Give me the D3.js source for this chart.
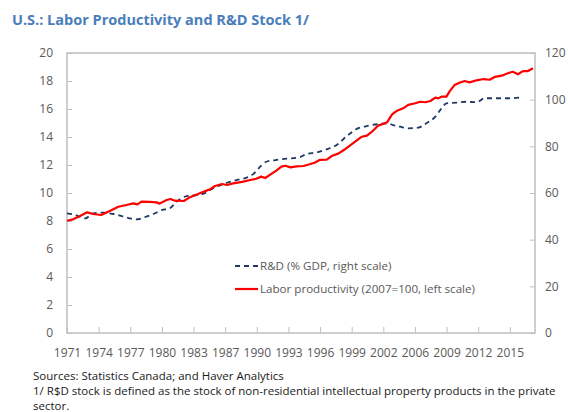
<!DOCTYPE html>
<html lang="en">
<head>
  <meta charset="UTF-8" />
  <title>U.S.: Labor Productivity and R&amp;D Stock</title>
  <script src="https://d3js.org/d3.v7.min.js"></script>
  <style>
    body { margin: 0; background: #fff; }
    svg text { font-family: "Open Sans", "Noto Sans", sans-serif; }
  </style>
</head>
<body>
  <div id="chart"></div>

  <script>
    // Labor productivity (2007=100, left scale)
    const prodYears = [1971.0, 1971.6, 1972.3, 1973.0, 1973.6, 1974.4, 1975.3, 1976.1, 1976.9, 1977.6,
      1978.0, 1978.4, 1979.2, 1979.9, 1980.2, 1980.9, 1981.3, 1981.7, 1982.6, 1983.2,
      1983.9, 1984.5, 1985.2, 1985.7, 1986.4, 1986.9, 1987.5, 1988.4, 1989.2, 1989.8,
      1990.3, 1990.7, 1991.3, 1991.8, 1992.3, 1992.7, 1993.2, 1993.8, 1994.5, 1995.1,
      1995.6, 1996.1, 1996.8, 1997.3, 1998.0, 1998.5, 1999.1, 1999.6, 2000.3, 2000.8,
      2001.3, 2001.9, 2002.4, 2002.8, 2003.3, 2003.8, 2004.4, 2004.9, 2005.6, 2006.1,
      2006.6, 2007.1, 2007.6, 2007.9, 2008.2, 2008.7, 2009.0, 2009.5, 2010.0, 2010.5,
      2011.0, 2011.7, 2012.4, 2013.0, 2013.5, 2014.2, 2014.8, 2015.3, 2015.8, 2016.3,
      2016.8, 2017.3];
    const prodValues = [8.02, 8.12, 8.36, 8.62, 8.50, 8.43, 8.74, 9.02, 9.14, 9.26,
      9.19, 9.38, 9.36, 9.33, 9.24, 9.50, 9.57, 9.45, 9.43, 9.69,
      9.90, 10.07, 10.26, 10.50, 10.64, 10.57, 10.69, 10.79, 10.93, 11.02,
      11.17, 11.07, 11.36, 11.60, 11.88, 11.95, 11.83, 11.90, 11.93, 12.05,
      12.16, 12.36, 12.38, 12.64, 12.83, 13.07, 13.38, 13.65, 14.02, 14.10,
      14.38, 14.81, 14.93, 15.05, 15.62, 15.88, 16.05, 16.29, 16.41, 16.52,
      16.48, 16.57, 16.81, 16.76, 16.88, 16.88, 17.24, 17.71, 17.88, 18.00,
      17.90, 18.05, 18.14, 18.09, 18.29, 18.38, 18.55, 18.66, 18.48, 18.71,
      18.71, 18.91];

    // R&D (% GDP, right scale)
    const rdYears = [1971.0, 1971.8, 1972.8, 1973.6, 1974.6, 1975.6, 1976.6, 1977.4, 1977.9, 1978.7,
      1979.6, 1980.4, 1981.2, 1981.9, 1982.9, 1983.9, 1984.5, 1985.5, 1986.9, 1987.9,
      1988.9, 1989.5, 1990.2, 1990.8, 1991.7, 1992.8, 1994.1, 1994.8, 1995.8, 1996.8,
      1997.8, 1998.8, 1999.8, 2000.7, 2002.1, 2002.8, 2003.4, 2004.1, 2004.9, 2005.9,
      2006.7, 2007.6, 2008.1, 2008.7, 2009.7, 2010.7, 2011.7, 2012.5, 2013.7, 2015.0,
      2016.2];
    const rdValues = [51.3, 50.6, 49.1, 51.3, 51.6, 51.0, 49.9, 49.0, 48.7, 49.6,
      51.0, 52.7, 53.4, 56.3, 58.7, 59.1, 59.6, 62.0, 64.4, 65.6,
      66.7, 68.1, 71.3, 73.4, 74.1, 74.7, 75.3, 76.7, 77.4, 78.7,
      80.6, 84.4, 87.5, 88.6, 89.6, 89.9, 89.1, 88.4, 87.7, 88.0,
      89.9, 92.7, 95.6, 98.4, 98.7, 99.1, 98.9, 100.6, 100.6, 100.6,
      101.0];

    // axis labels
    const xTickLabels = ["1971", "1974", "1977", "1980", "1983", "1987", "1990", "1993",
      "1996", "1999", "2002", "2006", "2009", "2012", "2015"];
    const leftTicks = [0, 2, 4, 6, 8, 10, 12, 14, 16, 18, 20];
    const rightTicks = [0, 20, 40, 60, 80, 100, 120];

    const width = 568, height = 412;
    const margin = { top: 53, right: 33, bottom: 79, left: 67 };
    const axisColor = "#595959";
    const frameColor = "#bfbfbf";

    const svg = d3.select("#chart")
      .append("svg")
      .attr("width", width)
      .attr("height", height);

    // Titre
    svg.append("text")
      .attr("x", 12)
      .attr("y", 25)
      .style("font-size", "14.5px")
      .style("font-weight", "bold")
      .style("fill", "#4a7ebb")
      .text("U.S.: Labor Productivity and R&D Stock 1/");

    const x = d3.scaleLinear()
      .domain([1971, 2017.5])
      .range([margin.left, width - margin.right]);

    const yLeft = d3.scaleLinear()
      .domain([0, 20])
      .range([height - margin.bottom, margin.top]);

    const yRight = d3.scaleLinear()
      .domain([0, 120])
      .range([height - margin.bottom, margin.top]);

    // labels are evenly spaced along the axis
    const step = (2015 - 1971) / (xTickLabels.length - 1);
    const xTickPos = xTickLabels.map((d, i) => 1971 + i * step);

    // cadre
    svg.append("rect")
      .attr("x", margin.left)
      .attr("y", margin.top)
      .attr("width", width - margin.right - margin.left)
      .attr("height", height - margin.bottom - margin.top)
      .attr("fill", "none")
      .attr("stroke", frameColor)
      .attr("stroke-width", 1.5);

    // left axis
    const gLeft = svg.append("g")
      .attr("transform", `translate(${margin.left},0)`)
      .call(d3.axisRight(yLeft).tickValues(leftTicks).tickSize(5).tickFormat(d3.format("d")));

    gLeft.selectAll("text")
      .attr("x", -14)
      .attr("text-anchor", "end");

    // right axis
    const gRight = svg.append("g")
      .attr("transform", `translate(${width - margin.right},0)`)
      .call(d3.axisLeft(yRight).tickValues(rightTicks).tickSize(5).tickFormat(d3.format("d")));

    gRight.selectAll("text")
      .attr("x", 10)
      .attr("text-anchor", "start");

    // bottom axis
    const gBottom = svg.append("g")
      .attr("transform", `translate(0,${height - margin.bottom})`)
      .call(d3.axisTop(x).tickValues(xTickPos).tickSize(6).tickFormat((d, i) => xTickLabels[i]));

    gBottom.selectAll("text")
      .attr("y", 24);

    [gLeft, gRight, gBottom].forEach(g => {
      g.select(".domain").remove();
      g.selectAll("line").attr("stroke", frameColor).attr("stroke-width", 1);
      g.selectAll("text")
        .style("font-size", "12px")
        .style("fill", axisColor);
    });

    // lines
    const rdData = rdYears.map((d, i) => [d, rdValues[i]]);
    const prodData = prodYears.map((d, i) => [d, prodValues[i]]);

    const rdLine = d3.line()
      .x(d => x(d[0]))
      .y(d => yRight(d[1]))
      .curve(d3.curveMonotoneX);

    const prodLine = d3.line()
      .x(d => x(d[0]))
      .y(d => yLeft(d[1]));

    svg.append("path")
      .datum(rdData)
      .attr("d", rdLine)
      .attr("fill", "none")
      .attr("stroke", "#1f3864")
      .attr("stroke-width", 1.8)
      .attr("stroke-dasharray", "5,4");

    svg.append("path")
      .datum(prodData)
      .attr("d", prodLine)
      .attr("fill", "none")
      .attr("stroke", "#ff0000")
      .attr("stroke-width", 2.2)
      .attr("stroke-linejoin", "round");

    // Légende
    const legend = [
      { label: "R&D (% GDP, right scale)", color: "#1f3864", dash: "5,4", w: 1.8, y: 266 },
      { label: "Labor productivity (2007=100, left scale)", color: "#ff0000", dash: null, w: 2.2, y: 289 }
    ];

    legend.forEach(d => {
      svg.append("line")
        .attr("x1", 235).attr("x2", 258)
        .attr("y1", d.y).attr("y2", d.y)
        .attr("stroke", d.color)
        .attr("stroke-width", d.w)
        .attr("stroke-dasharray", d.dash);
      svg.append("text")
        .attr("x", 260)
        .attr("y", d.y + 4)
        .style("font-size", "11.6px")
        .style("fill", axisColor)
        .text(d.label);
    });

    // sources and note
    const notes = [
      "Sources: Statistics Canada; and Haver Analytics",
      "1/ R$D stock is defined as the stock of non-residential intellectual property products in the private",
      "sector."
    ];

    svg.selectAll(".note")
      .data(notes)
      .enter()
      .append("text")
      .attr("class", "note")
      .attr("x", 33)
      .attr("y", (d, i) => 380 + i * 15)
      .style("font-size", "11.5px")
      .style("fill", "#1a1a1a")
      .text(d => d);
  </script>
</body>
</html>
